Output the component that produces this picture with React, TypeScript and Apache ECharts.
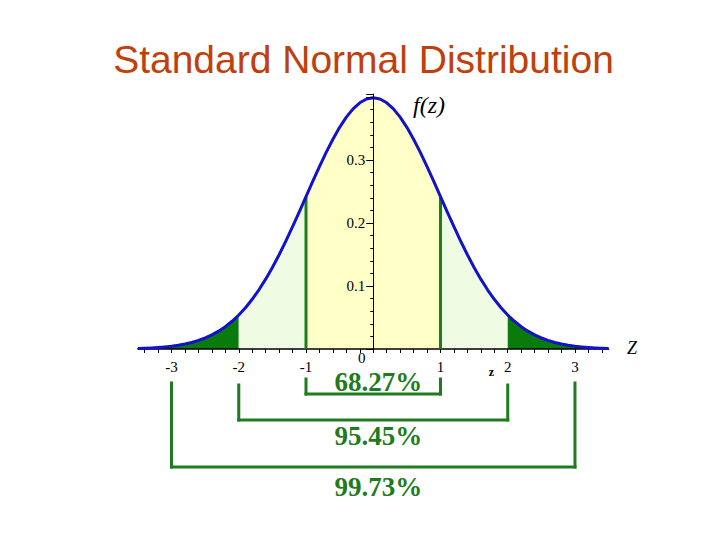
import React, { useEffect, useRef } from "react";
import * as echarts from "echarts";

const titleText = "Standard Normal Distribution";
const yAxisName = "f(z)";
const xAxisName = "Z";
const zValues = [
  -3.5, -3.4, -3.3, -3.2, -3.1, -3, -2.9, -2.8, -2.7, -2.6, -2.5, -2.4, -2.3, -2.2, -2.1, -2,
  -1.9, -1.8, -1.7, -1.6, -1.5, -1.4, -1.3, -1.2, -1.1, -1, -0.9, -0.8, -0.7, -0.6, -0.5, -0.4,
  -0.3, -0.2, -0.1, 0, 0.1, 0.2, 0.3, 0.4, 0.5, 0.6, 0.7, 0.8, 0.9, 1, 1.1, 1.2, 1.3, 1.4, 1.5,
  1.6, 1.7, 1.8, 1.9, 2, 2.1, 2.2, 2.3, 2.4, 2.5, 2.6, 2.7, 2.8, 2.9, 3, 3.1, 3.2, 3.3, 3.4, 3.5,
];
const densityValues = [
  0.0009, 0.0012, 0.0017, 0.0024, 0.0033, 0.0044, 0.006, 0.0079, 0.0104, 0.0136, 0.0175, 0.0224,
  0.0283, 0.0355, 0.044, 0.054, 0.0656, 0.079, 0.094, 0.1109, 0.1295, 0.1497, 0.1714, 0.1942,
  0.2179, 0.242, 0.2661, 0.2897, 0.3123, 0.3332, 0.3521, 0.3683, 0.3814, 0.391, 0.397, 0.3989,
  0.397, 0.391, 0.3814, 0.3683, 0.3521, 0.3332, 0.3123, 0.2897, 0.2661, 0.242, 0.2179, 0.1942,
  0.1714, 0.1497, 0.1295, 0.1109, 0.094, 0.079, 0.0656, 0.054, 0.044, 0.0355, 0.0283, 0.0224,
  0.0175, 0.0136, 0.0104, 0.0079, 0.006, 0.0044, 0.0033, 0.0024, 0.0017, 0.0012, 0.0009,
];
const regionBounds = [
  [-3.5, -2],
  [-2, -1],
  [-1, 1],
  [1, 2],
  [2, 3.5],
];
const regionColors = ["#0A7A0A", "#EFFBE3", "#FFFFC8", "#EFFBE3", "#0A7A0A"];
const boundaryLines = [-1, 1];
const xTickValues = [
  -3.4, -3.2, -3, -2.8, -2.6, -2.4, -2.2, -2, -1.8, -1.6, -1.4, -1.2, -1, -0.8, -0.6, -0.4, -0.2,
  0, 0.2, 0.4, 0.6, 0.8, 1, 1.2, 1.4, 1.6, 1.8, 2, 2.2, 2.4, 2.6, 2.8, 3, 3.2, 3.4,
];
const xLabelValues = [-3, -2, -1, 1, 2, 3];
const yLabelValues = [0.1, 0.2, 0.3];
const intervalHalfWidths = [1, 2, 3];
const intervalLabels = ["68.27%", "95.45%", "99.73%"];

const GREEN = "#1E7B1E";
const X_MIN = -3.5;
const X_MAX = 3.5;
const GRID_LEFT = 137.9;
const GRID_RIGHT = 111.4;

export default function App() {
  const ref = useRef<HTMLDivElement>(null);

  useEffect(() => {
    if (!ref.current) return;
    const chart = echarts.init(ref.current, null, { renderer: "svg" });

    const points = zValues.map((z, i) => [z, densityValues[i]]);
    const densityAt = (z: number) => densityValues[zValues.indexOf(z)];
    const gridWidth = 720 - GRID_LEFT - GRID_RIGHT;
    const yAxisOffset = -((0 - X_MIN) / (X_MAX - X_MIN)) * gridWidth;

    const areaSeries = regionBounds.map((b, i) => ({
      type: "line",
      data: points.filter((p) => p[0] >= b[0] - 1e-9 && p[0] <= b[1] + 1e-9),
      symbol: "none",
      lineStyle: { width: 0, opacity: 0 },
      areaStyle: { color: regionColors[i], opacity: 1 },
      z: 1,
      silent: true,
    }));

    const vertSeries = boundaryLines.map((x) => ({
      type: "line",
      data: [
        [x, 0],
        [x, densityAt(x)],
      ],
      symbol: "none",
      lineStyle: { color: GREEN, width: 3 },
      z: 2,
      silent: true,
    }));

    const option: any = {
      animation: false,
      backgroundColor: "#ffffff",
      grid: { left: GRID_LEFT, right: GRID_RIGHT, top: 94, bottom: 191, containLabel: false },
      xAxis: {
        type: "value",
        min: X_MIN,
        max: X_MAX,
        z: 2,
        axisLine: { show: true, onZero: true, lineStyle: { color: "#000", width: 1.5 } },
        axisTick: { show: true, length: 4, customValues: xTickValues, lineStyle: { color: "#000" } },
        axisLabel: {
          show: true,
          customValues: xLabelValues,
          margin: 10,
          color: "#000",
          fontFamily: "Liberation Serif",
          fontSize: 15,
          formatter: (v: number) => String(Math.round(v)),
        },
        splitLine: { show: false },
      },
      yAxis: {
        type: "value",
        min: 0,
        max: 0.405,
        interval: 0.1,
        z: 4,
        position: "left",
        offset: yAxisOffset,
        axisLine: { show: true, onZero: false, lineStyle: { color: "#000", width: 1 } },
        axisTick: { show: true, length: 7, lineStyle: { color: "#000" } },
        minorTick: { show: true, splitNumber: 5, length: 3, lineStyle: { color: "#000" } },
        axisLabel: {
          show: true,
          margin: 8,
          color: "#000",
          fontFamily: "Liberation Serif",
          fontSize: 15,
          formatter: (v: number) =>
            yLabelValues.some((t) => Math.abs(t - v) < 1e-6) ? v.toFixed(1) : "",
        },
        splitLine: { show: false },
      },
      series: [
        ...areaSeries,
        ...vertSeries,
        {
          type: "line",
          data: points,
          symbol: "none",
          lineStyle: { color: "#1212CC", width: 3, join: "round" },
          z: 3,
          silent: true,
        },
      ],
    };

    chart.setOption(option);

    const px = (x: number, y: number) => chart.convertToPixel({ gridIndex: 0 }, [x, y]) as number[];
    const origin = px(0, 0);
    const bracketLayout = [
      { top: 379, bottom: 394, textY: 382 },
      { top: 385, bottom: 420, textY: 436 },
      { top: 383, bottom: 467, textY: 487 },
    ];
    const graphics: any[] = [
      {
        type: "text",
        x: 363.5,
        y: 79,
        style: {
          text: titleText,
          font: "39px 'Liberation Sans', Arial, sans-serif",
          fill: "#C0400C",
          textAlign: "center",
          textVerticalAlign: "bottom",
        },
      },
      {
        type: "text",
        x: 413,
        y: 105,
        style: {
          text: yAxisName,
          font: "italic 24px 'Liberation Serif', serif",
          fill: "#000",
          textAlign: "left",
          textVerticalAlign: "middle",
        },
      },
      {
        type: "text",
        x: 627,
        y: 348,
        style: {
          text: xAxisName,
          font: "italic 18px 'Liberation Serif', serif",
          fill: "#000",
          textAlign: "left",
          textVerticalAlign: "middle",
        },
      },
      {
        type: "text",
        x: origin[0] - 11.5,
        y: origin[1] + 9,
        style: {
          text: "0",
          font: "15px 'Liberation Serif', serif",
          fill: "#000",
          textAlign: "center",
          textVerticalAlign: "middle",
        },
      },
      {
        type: "text",
        x: 491.5,
        y: 372,
        style: {
          text: "z",
          font: "bold 12px 'Liberation Serif', serif",
          fill: "#000",
          textAlign: "center",
          textVerticalAlign: "middle",
        },
      },
    ];

    intervalHalfWidths.forEach((w, i) => {
      const l = bracketLayout[i];
      const xl = px(-w, 0)[0];
      const xr = px(w, 0)[0];
      const st = { stroke: GREEN, lineWidth: 3, lineCap: "square" };
      graphics.push(
        { type: "line", shape: { x1: xl, y1: l.top, x2: xl, y2: l.bottom }, style: st },
        { type: "line", shape: { x1: xr, y1: l.top, x2: xr, y2: l.bottom }, style: st },
        { type: "line", shape: { x1: xl, y1: l.bottom, x2: xr, y2: l.bottom }, style: st },
        {
          type: "text",
          x: origin[0] + 5,
          y: l.textY,
          style: {
            text: intervalLabels[i],
            font: "bold 27px 'Liberation Serif', serif",
            fill: GREEN,
            textAlign: "center",
            textVerticalAlign: "middle",
          },
        }
      );
    });

    chart.setOption({ graphic: graphics });

    return () => chart.dispose();
  }, []);

  return (
    <div
      ref={ref}
      style={{ position: "absolute", left: 0, top: 0, width: 720, height: 540, background: "#fff" }}
    />
  );
}
